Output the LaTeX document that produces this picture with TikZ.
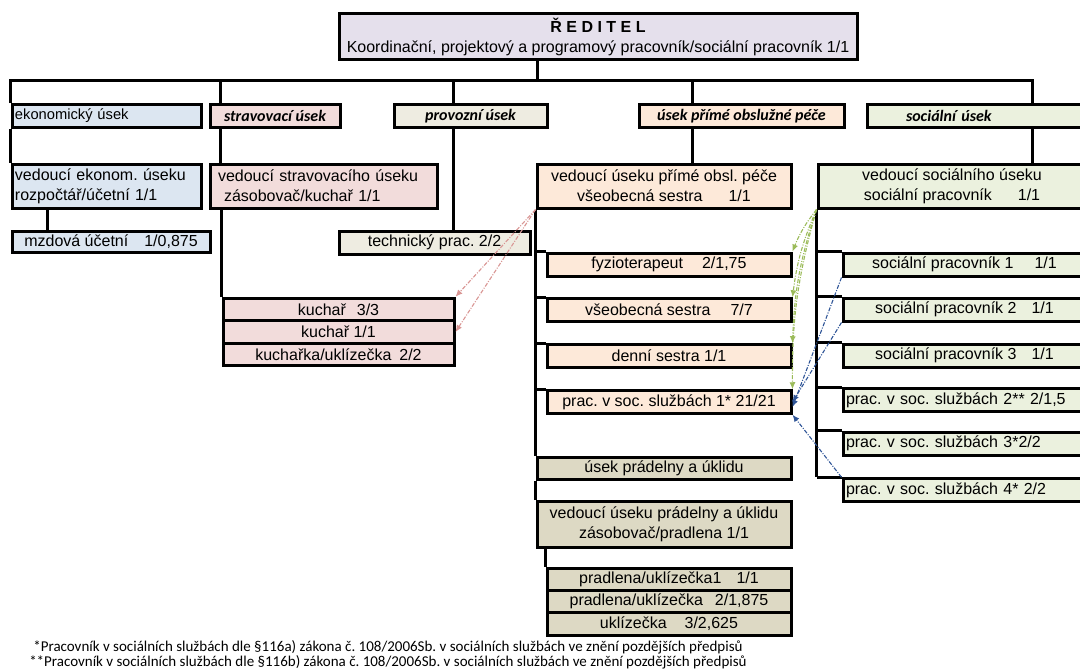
\documentclass[tikz,border=0pt]{standalone}
\usepackage{fontspec}
\setmainfont{Liberation Sans}
\newfontfamily\calfont{Carlito}
\usetikzlibrary{arrows.meta}
\definecolor{cDir}{HTML}{E5E0EC}
\definecolor{cEko}{HTML}{DCE6F1}
\definecolor{cStr}{HTML}{F2DCDB}
\definecolor{cPro}{HTML}{EEECE1}
\definecolor{cPec}{HTML}{FDE9D9}
\definecolor{cSoc}{HTML}{EBF1DE}
\definecolor{cPra}{HTML}{DDD9C4}
\definecolor{aRed}{HTML}{D99694}
\definecolor{aGrn}{HTML}{9BBB59}
\definecolor{aBlu}{HTML}{2F5597}
\frenchspacing
\begin{document}
\begin{tikzpicture}[x=1pt,y=-1pt,>=Latex,
  box/.style={draw=black,line width=3pt,inner xsep=3pt,inner ysep=0pt,minimum height=22.5pt,align=center,font=\fontsize{16}{20}\selectfont},
  head/.style={box,font=\calfont\bfseries\itshape\fontsize{16}{18}\selectfont},
  conn/.style={line width=3pt},
  rel/.style={-{Latex[length=7pt,width=6pt]},line width=1.1pt,dash pattern=on 4pt off 1.5pt on 1pt off 1.5pt}]
\useasboundingbox (0,0) rectangle (1080,669);
% reditel
\node[box,fill=cDir,minimum width=518pt,minimum height=46pt] (d0) at (598,37) {\textbf{Ř E D I T E L}\\Koordinační, projektový a programový pracovník/sociální pracovník 1/1};
% useky
\node[box,fill=cEko,text width=183pt,align=left,font=\fontsize{14.7}{17}\selectfont] (u1) at (106.5,116) {ekonomický úsek};
\node[head,fill=cStr,minimum width=130pt] (u2) at (275,116) {stravovací úsek};
\node[head,fill=cPro,minimum width=153pt] (u3) at (470.5,116) {provozní úsek};
\node[head,fill=cPec,minimum width=205pt] (u4) at (741.5,116) {úsek přímé obslužné péče};
\node[head,fill=cSoc,text width=213pt,align=left] (u5) at (976.5,116) {\hspace*{36pt}sociální úsek};
% vedouci
\node[box,fill=cEko,text width=183pt,align=left,minimum height=44pt] (v1) at (106.5,186) {vedoucí ekonom. úseku\\rozpočtář/účetní 1/1};
\node[box,fill=cStr,text width=221pt,align=left,minimum height=44pt] (v2) at (323.5,186) {\hspace*{5pt}vedoucí stravovacího úseku\\\hspace*{11pt}zásobovač/kuchař 1/1};
\node[box,fill=cPec,minimum width=254pt,minimum height=44pt] (v3) at (664,186) {vedoucí úseku přímé obsl. péče\\všeobecná sestra\hspace{26pt}1/1};
\node[box,fill=cSoc,minimum width=268pt,minimum height=44pt] (v5) at (952,186) {vedoucí sociálního úseku\\sociální pracovník\hspace{26pt}1/1};
% ekonomicky a provozni
\node[box,fill=cEko,minimum width=198pt,minimum height=21pt] (m1) at (111,241.5) {mzdová účetní\hspace{16pt}1/0,875};
\node[box,fill=cPro,minimum width=191pt,minimum height=23pt] (t1) at (434.5,242.5) {technický prac. 2/2};
% stravovaci
\node[box,fill=cStr,minimum width=231pt] (c1) at (338.5,309.5) {kuchař\hspace{11pt}3/3};
\node[box,fill=cStr,minimum width=231pt] (c2) at (338.5,332) {kuchař 1/1};
\node[box,fill=cStr,minimum width=231pt] (c3) at (338.5,354.5) {kuchařka/uklízečka\hspace{8pt}2/2};
% prima pece
\node[box,fill=cPec,minimum width=244pt,minimum height=23pt] (f1) at (669,264.5) {fyzioterapeut\hspace{19pt}2/1,75};
\node[box,fill=cPec,minimum width=244pt] (f2) at (669,310) {všeobecná sestra\hspace{20pt}7/7};
\node[box,fill=cPec,minimum width=244pt] (f3) at (669,356) {denní sestra 1/1};
\node[box,fill=cPec,minimum width=244pt] (f4) at (669,402) {prac. v soc. službách 1* 21/21};
% pradelna
\node[box,fill=cPra,minimum width=254pt,minimum height=22pt] (p1) at (664,468) {úsek prádelny a úklidu};
\node[box,fill=cPra,minimum width=254pt,minimum height=46pt] (p2) at (664,524) {vedoucí úseku prádelny a úklidu\\zásobovač/pradlena 1/1};
\node[box,fill=cPra,minimum width=244pt,minimum height=22pt] (q1) at (669,579) {pradlena/uklízečka1\hspace{15pt}1/1};
\node[box,fill=cPra,minimum width=244pt] (q2) at (669,601.5) {pradlena/uklízečka\hspace{12pt}2/1,875};
\node[box,fill=cPra,minimum width=244pt] (q3) at (669,624) {uklízečka\hspace{18pt}3/2,625};
% socialni
\node[box,fill=cSoc,minimum width=243pt,minimum height=23pt] (s1) at (964.5,264.5) {sociální pracovník 1\hspace{21pt}1/1};
\node[box,fill=cSoc,minimum width=243pt,minimum height=23pt] (s2) at (964.5,309.5) {sociální pracovník 2\hspace{15pt}1/1};
\node[box,fill=cSoc,minimum width=243pt,minimum height=23pt] (s3) at (964.5,355.5) {sociální pracovník 3\hspace{15pt}1/1};
\node[box,fill=cSoc,text width=237pt,align=left] (s4) at (964.5,400) {prac. v soc. službách 2** 2/1,5};
\node[box,fill=cSoc,text width=237pt,align=left,minimum height=23pt] (s5) at (964.5,443.5) {prac. v soc. službách 3*2/2};
\node[box,fill=cSoc,text width=237pt,align=left] (s6) at (964.5,490) {prac. v soc. službách 4* 2/2};
% poznamky
\node[font=\calfont\fontsize{15}{15}\selectfont,align=center,inner sep=0pt] (n1) at (388,654.5) {*Pracovník v sociálních službách dle §116a) zákona č. 108/2006Sb. v sociálních službách ve znění pozdějších předpisů\\**Pracovník v sociálních službách dle §116b) zákona č. 108/2006Sb. v sociálních službách ve znění pozdějších předpisů};
% vedeni
\coordinate (k0) at (537,81);
\coordinate (k2) at (220,81);
\coordinate (k3) at (453,81);
\coordinate (k4) at (692,81);
\coordinate (k5) at (1032,81);
\coordinate (k1) at (47,208);
\draw[conn] (d0.south -| k0) -- (k0);
\draw[conn] (u1.north west) |- (k5) -- (k5 |- u5.north);
\draw[conn] (k2) -- (k2 |- u2.north);
\draw[conn] (k3) -- (k3 |- u3.north);
\draw[conn] (k4) -- (k4 |- u4.north);
\draw[conn] (u1.south west) -- (v1.north west);
\draw[conn] (k2 |- u2.south) -- (k2 |- v2.north);
\draw[conn] (k3 |- u3.south) -- (k3 |- t1.north);
\draw[conn] (k4 |- u4.south) -- (k4 |- v3.north);
\draw[conn] (k5 |- u5.south) -- (k5 |- v5.north);
\draw[conn] (k1) -- (k1 |- m1.north);
\draw[conn] (c1.north west |- v2.south) -- (c1.north west);
\draw[conn] (v3.south west) -- (p1.north west);
\foreach \n in {f1,f2,f3,f4}
  \draw[conn] (v3.south west |- \n.north) -- (\n.north west);
\draw[conn] (p1.south west) -- (p2.north west);
\draw[conn] (q1.north west |- p2.south) -- (q1.north west);
\draw[conn] (v5.south west) -- (v5.south west |- s6.north);
\foreach \n in {s1,s2,s3,s4,s5,s6}
  \draw[conn] (v5.south west |- \n.north) -- (\n.north west);
% vazby
\draw[rel,aRed] (v3.south west) -- (c1.north east);
\draw[rel,aRed] (v3.south west) -- (c2.east);
\foreach \n in {f1,f2,f3,f4}
  \draw[rel,aGrn] (v5.south west) to[bend right=8] (\n.north east);
\draw[rel,aBlu] (s1.south west) -- ([yshift=-5pt]f4.east);
\draw[rel,aBlu] (s2.south west) -- (f4.east);
\draw[rel,aBlu] (s6.north west) -- (f4.south east);
\end{tikzpicture}
\end{document}
